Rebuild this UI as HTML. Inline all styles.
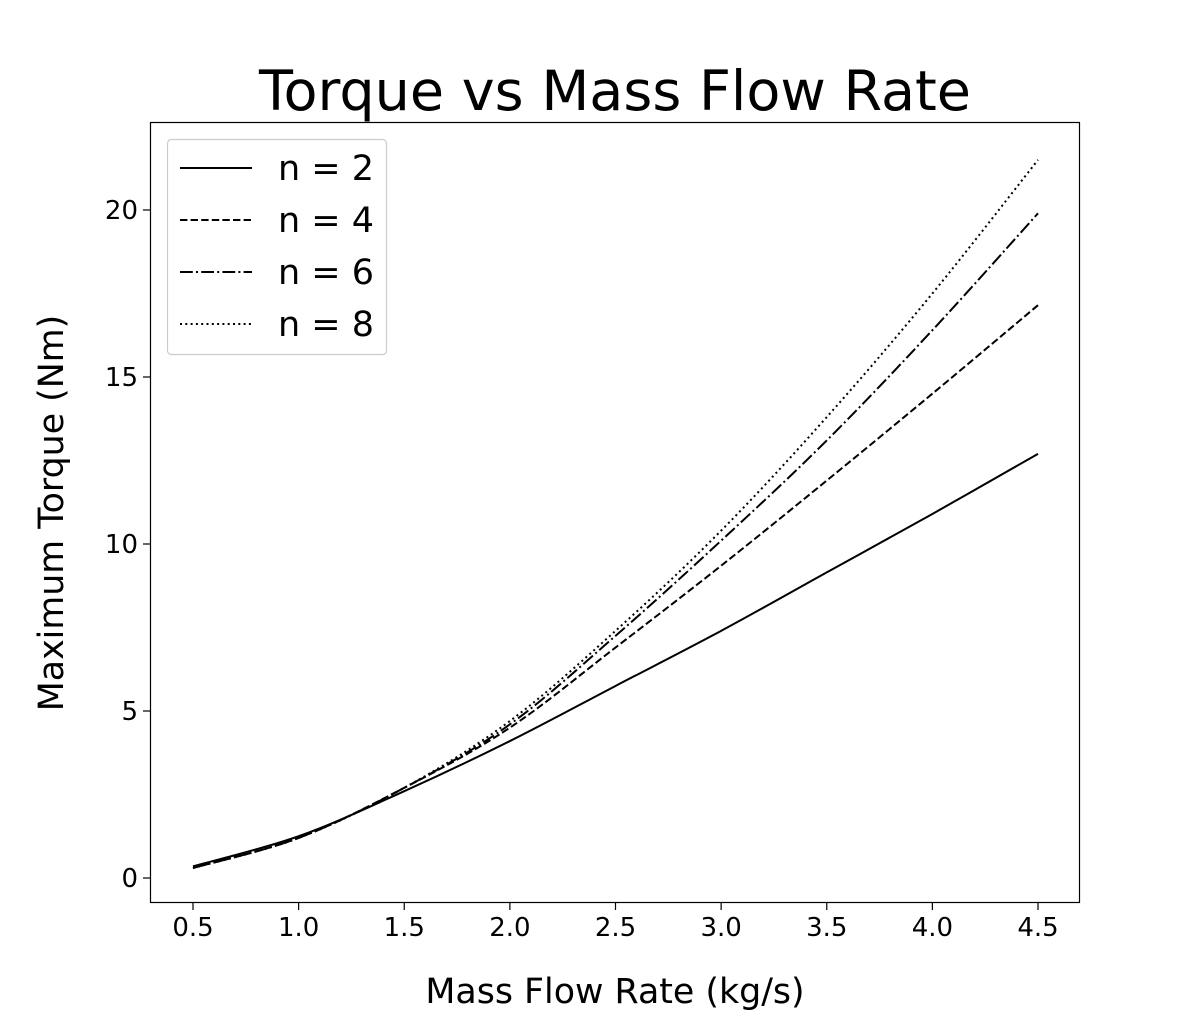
<!DOCTYPE html>
<html><head><meta charset="utf-8"><style>
body{margin:0;background:#fff;}
svg text{font-family:"DejaVu Sans","Liberation Sans",sans-serif;fill:#000;}
</style></head><body>
<svg id="chart" width="1200" height="1015" xmlns="http://www.w3.org/2000/svg">
<rect width="1200" height="1015" fill="#fff"/>
<text x="615" y="110" font-size="55.6" text-anchor="middle">Torque vs Mass Flow Rate</text>
<g id="ticks"></g>
<g id="series"></g>
<rect x="150.5" y="122.5" width="929" height="780" fill="none" stroke="#000" stroke-width="1.2"/>
<text x="615" y="1003" font-size="34.8" text-anchor="middle">Mass Flow Rate (kg/s)</text>
<text transform="translate(63,513) rotate(-90)" font-size="34.8" text-anchor="middle">Maximum Torque (Nm)</text>
<g id="legend">
<rect x="167.5" y="139.5" width="219" height="215" rx="4" fill="#fff" stroke="#ccc" stroke-width="1.2"/>
</g>
</svg>
<script>
const xValues=[0.5,1.0,1.5,2.0,2.5,3.0,3.5,4.0,4.5];
const seriesN2=[0.35,1.25,2.6,4.1,5.75,7.4,9.15,10.9,12.7];
const seriesN4=[0.3,1.2,2.7,4.5,6.9,9.35,11.9,14.5,17.15];
const seriesN6=[0.3,1.2,2.7,4.6,7.25,10.1,13.1,16.4,19.9];
const seriesN8=[0.3,1.2,2.7,4.7,7.4,10.4,13.8,17.5,21.5];
const seriesLabels=["n = 2","n = 4","n = 6","n = 8"];
const xTicks=[0.5,1.0,1.5,2.0,2.5,3.0,3.5,4.0,4.5];
const yTicks=[0,5,10,15,20];
const NS="http://www.w3.org/2000/svg";
const xs=v=>193+(v-0.5)*211.25;
const ys=v=>878-v*33.4;
const dashes=["",  "7.4,3.2","12.8,3.2,2,3.2","2,3.3"];
const tg=document.getElementById('ticks');
function mk(tag,attrs,parent){const e=document.createElementNS(NS,tag);for(const k in attrs)e.setAttribute(k,attrs[k]);parent.appendChild(e);return e;}
xTicks.forEach(t=>{
 const l=mk('line',{x1:xs(t),x2:xs(t),y1:903,y2:910,stroke:'#000','stroke-width':1.2},tg);
 
 
 const tx=mk('text',{x:xs(t),y:936,'font-size':26,'text-anchor':'middle'},tg);
 tx.textContent=t.toFixed(1);
 
 
});
yTicks.forEach(t=>{
 const l=mk('line',{x1:143,x2:150,y1:ys(t),y2:ys(t),stroke:'#000','stroke-width':1.2},tg);
 
 
 const tx=mk('text',{x:138,y:ys(t)+9,'font-size':26,'text-anchor':'end'},tg);
 tx.textContent=t;
 
 
});
function smoothPath(vals){
 const p=xValues.map((x,i)=>[xs(x),ys(vals[i])]);
 let d='M'+p[0][0]+','+p[0][1];
 for(let i=0;i<p.length-1;i++){
  const p0=p[i-1]||p[i],p1=p[i],p2=p[i+1],p3=p[i+2]||p2;
  const c1=[p1[0]+(p2[0]-p0[0])/6,p1[1]+(p2[1]-p0[1])/6];
  const c2=[p2[0]-(p3[0]-p1[0])/6,p2[1]-(p3[1]-p1[1])/6];
  d+=` C${c1[0]},${c1[1]} ${c2[0]},${c2[1]} ${p2[0]},${p2[1]}`;
 }
 return d;
}
const sg=document.getElementById('series');
const lg=document.getElementById('legend');
[seriesN2,seriesN4,seriesN6,seriesN8].forEach((s,i)=>{
 const p=mk('path',{d:smoothPath(s),fill:'none',stroke:'#000','stroke-width':2,'stroke-dasharray':dashes[i]},sg);
 
 
 const y=168+i*52;
 const l=mk('line',{x1:180,x2:252,y1:y,y2:y,stroke:'#000','stroke-width':2,'stroke-dasharray':dashes[i]},lg);
 
 
 const t=mk('text',{x:278,y:y+12,'font-size':35},lg);
 t.textContent=seriesLabels[i];
 
 
});
</script>
</body></html>
